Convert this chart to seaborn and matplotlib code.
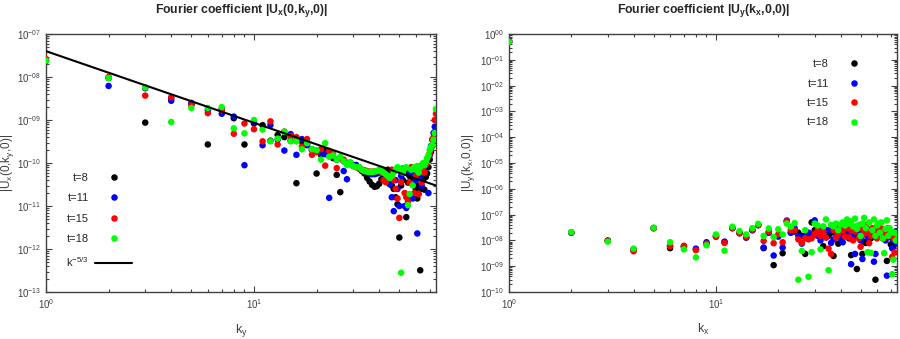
import numpy as np
import pandas as pd
import matplotlib
matplotlib.use("Agg")
import matplotlib.pyplot as plt
import matplotlib.ticker as mticker
import seaborn as sns

# wavenumbers 1..75
k_vals = list(range(1, 76))
times = ["t=8", "t=11", "t=15", "t=18"]
colors = ["#000000", "#0000ff", "#ff0000", "#00ff00"]

# |Ux(0,ky,0)|
ux_t8 = [2.4e-8, 9.5e-9, 8.7e-10, 3.2e-9, 2.3e-9, 2.7e-10, 1.8e-9, 1.1e-9, 2.7e-10, 8.3e-10,
         7.6e-10, 3.3e-10, 4.5e-10, 4.0e-10, 3.3e-10, 3.4e-11, 3.2e-10, 2.8e-10, 2.1e-10, 5.7e-11,
         1.55e-10, 1.9e-10, 1.5e-10, 1.3e-10, 5.3e-11, 2.1e-11, 1.1e-10, 1.0e-10, 9.5e-11, 9e-11,
         8.5e-11, 7.5e-11, 6.5e-11, 5.7e-11, 4.5e-11, 3.7e-11, 3.1e-11, 2.8e-11, 2.9e-11, 3.3e-11,
         4.2e-11, 5.5e-11, 6.5e-11, 7e-11, 6e-11, 3e-11, 2.5e-11, 1.6e-11, 1.1e-11, 1.85e-12,
         3e-11, 4e-11, 6e-11, 5.5e-12, 3.5e-11, 5e-11, 6e-11, 4.5e-11, 3e-11, 2.5e-11,
         1.5e-11, 3e-11, 3.2e-13, 2.5e-11, 4e-11, 2.4e-11, 4.7e-11, 5.7e-11, 8e-11, 1.2e-10,
         1.8e-10, 2.5e-10, 3.5e-10, 4.5e-10, 5.9e-10]
ux_t11 = [2.4e-8, 6.2e-9, 5.5e-9, 2.8e-9, 2.5e-9, 1.7e-9, 1.4e-9, 1.2e-9, 8.9e-11, 9e-10,
          2.6e-10, 7.6e-10, 3.5e-10, 1.95e-10, 4.7e-10, 1.55e-10, 3.6e-10, 2.6e-10, 2e-10, 1.9e-10,
          1.7e-10, 1.6e-10, 1.55e-11, 1.4e-10, 1.2e-10, 1.3e-10, 6.5e-11, 4.2e-11, 1e-10, 9e-11,
          9e-11, 8e-11, 7e-11, 6.5e-11, 6e-11, 5.7e-11, 5.5e-11, 5.5e-11, 5.7e-11, 6e-11,
          6.5e-11, 6e-11, 5e-11, 3.5e-11, 3.2e-11, 1.6e-11, 7.6e-12, 4e-11, 2.5e-11, 1e-11,
          5e-11, 6.5e-11, 1e-11, 9e-12, 7e-11, 1.8e-11, 6e-11, 1.5e-11, 7e-11, 4e-11,
          2.3e-12, 6.5e-11, 5e-11, 3e-11, 7e-11, 8e-11, 9e-11, 1.1e-10, 2e-11, 1.5e-10,
          2.5e-10, 3.5e-10, 5e-10, 7e-10, 1e-9]
ux_t15 = [2.6e-8, 1e-8, 3.7e-9, 3.4e-9, 2.2e-9, 1.45e-9, 1.7e-9, 4.8e-10, 8.3e-10, 6.1e-10,
          3.2e-10, 9.3e-10, 2.7e-10, 5.4e-10, 4.3e-10, 4e-10, 2.4e-10, 3.6e-10, 1.55e-10, 1.8e-10,
          2.1e-10, 8.7e-11, 1.9e-10, 1.6e-10, 7.6e-11, 1.3e-10, 1.2e-10, 1e-10, 9.5e-11, 8.5e-11,
          8e-11, 7.5e-11, 7e-11, 6.8e-11, 6.5e-11, 6.3e-11, 6.3e-11, 6.3e-11, 6.5e-11, 6.8e-11,
          6e-11, 4e-11, 3.6e-11, 4.5e-11, 5e-11, 7e-11, 4e-11, 2.5e-11, 1.5e-11, 5.3e-12,
          3.6e-11, 7.5e-11, 2e-11, 1.6e-11, 1.3e-11, 3.5e-11, 8e-11, 7.5e-11, 2e-11, 5e-11,
          8e-11, 1.9e-11, 6.5e-11, 3.5e-11, 7.5e-11, 6e-11, 9e-11, 1.2e-10, 1.4e-10, 1.7e-10,
          2.2e-10, 3.5e-10, 4e-10, 1e-9, 1.4e-9]
ux_t18 = [2.4e-8, 9.5e-9, 5.7e-9, 9e-10, 1.9e-9, 1.9e-9, 2e-9, 6.4e-10, 4.9e-10, 1e-9,
          6e-10, 3.2e-10, 3.7e-10, 5.3e-10, 3.2e-10, 3.2e-10, 2.1e-10, 2.9e-10, 2.1e-10, 2e-10,
          1.2e-10, 2.9e-10, 1.4e-10, 1.5e-10, 1.2e-10, 1.4e-10, 1.1e-10, 9e-11, 1.05e-10, 8.5e-11,
          8e-11, 8e-11, 7e-11, 6.5e-11, 6.3e-11, 6.2e-11, 6.2e-11, 6.3e-11, 6.5e-11, 6.8e-11,
          6.5e-11, 6e-11, 5.5e-11, 5e-11, 4.5e-11, 5e-11, 6e-11, 7e-11, 8e-11, 7.5e-11,
          2.8e-13, 6e-11, 7.5e-11, 8e-11, 1.05e-11, 1.9e-11, 7e-11, 3e-11, 8e-11, 7e-11,
          8.5e-11, 6e-11, 8e-11, 9e-11, 1e-10, 9e-11, 1.05e-10, 1.3e-10, 1.5e-10, 2e-10,
          2.4e-10, 2.6e-10, 3.5e-10, 5e-10, 1.8e-9]

# |Uy(kx,0,0)|
uy_t8 = [0.5, 2e-8, 9.5e-9, 4.2e-9, 3e-8, 5e-9, 5.5e-9, 4.5e-9, 7.5e-9, 1.4e-8,
         8.5e-9, 3e-8, 1.9e-8, 1.3e-8, 2.5e-8, 3.9e-8, 5e-9, 2e-8, 1.1e-9, 1.5e-8,
         3.2e-9, 5.5e-8, 2e-8, 2.2e-8, 2e-8, 1.5e-8, 3e-9, 1.8e-8, 5e-8, 2.5e-8,
         2.2e-8, 2e-8, 6e-9, 2.5e-8, 1.5e-8, 2e-8, 2.5e-9, 1.8e-8, 7.5e-9, 2.2e-8,
         1.5e-8, 2e-8, 2.5e-8, 1.2e-8, 2.7e-9, 2e-8, 1.5e-8, 7.8e-10, 2.2e-8, 1.3e-8,
         3e-9, 8.5e-9, 8e-9, 2.5e-8, 1.8e-8, 1.2e-8, 2e-8, 2.5e-8, 3e-10, 1.5e-8,
         2.8e-8, 1.5e-8, 2e-8, 1.2e-8, 2e-8, 1.5e-8, 1.6e-9, 2.2e-8, 1.8e-8, 7e-9,
         1.2e-8, 6e-9, 1.5e-8, 9e-9, 1.2e-8]
uy_t11 = [0.5, 2e-8, 1e-8, 4.5e-9, 3e-8, 6e-9, 6e-9, 4.8e-9, 8.5e-9, 1.5e-8,
          9e-9, 3e-8, 2e-8, 1.3e-8, 2.5e-8, 4e-8, 5.3e-9, 2e-8, 2.6e-9, 1.4e-8,
          5.3e-9, 5.9e-8, 2e-8, 3e-8, 1.5e-8, 7.5e-9, 1.5e-8, 2e-8, 1.7e-8, 6e-8,
          1.5e-8, 1e-8, 3e-8, 1.3e-8, 2.5e-8, 8e-9, 1.1e-8, 2e-8, 3.5e-8, 1.2e-8,
          8.5e-9, 2.5e-8, 1.6e-8, 2.8e-8, 1.2e-9, 1.8e-8, 3e-9, 1.5e-8, 2.5e-8, 1e-8,
          1.9e-9, 2.2e-8, 3.5e-8, 1.3e-8, 2.5e-8, 2e-8, 1.5e-8, 1.5e-9, 3e-9, 3.2e-8,
          2e-8, 1.5e-8, 2.5e-8, 1.5e-8, 1.8e-8, 1e-8, 4.3e-10, 2.5e-8, 1.4e-8, 2e-8,
          5e-9, 1e-8, 1.8e-8, 2.2e-8, 8e-9]
uy_t15 = [0.5, 2e-8, 9.5e-9, 3.8e-9, 3e-8, 6e-9, 6.2e-9, 4.2e-9, 7.5e-9, 1.4e-8,
          8e-9, 3e-8, 1.9e-8, 1.4e-8, 2.6e-8, 3.9e-8, 9.5e-9, 2.2e-8, 7.8e-9, 1.7e-8,
          8.5e-9, 5.5e-8, 2.5e-8, 2.5e-8, 1.1e-8, 8e-9, 1.2e-8, 1.1e-8, 1.2e-8, 1.8e-8,
          2.5e-8, 1.5e-8, 2.2e-8, 1.3e-8, 4.8e-9, 3e-9, 2.5e-8, 1.3e-8, 1.8e-8, 2.8e-8,
          2.3e-8, 1.4e-8, 3e-8, 1.3e-8, 2.5e-8, 1e-8, 2.2e-8, 3.5e-8, 1.2e-8, 5.7e-9,
          2.8e-8, 1.8e-8, 4e-8, 2.2e-8, 7.8e-9, 1.5e-8, 3e-8, 1.8e-8, 2.5e-8, 1.2e-8,
          3.5e-8, 2e-8, 1.5e-8, 2.8e-8, 1.2e-8, 2.2e-8, 1.8e-8, 3e-8, 1.5e-8, 2e-8,
          2.3e-9, 1.2e-8, 3.4e-9, 1.8e-8, 1e-8]
uy_t18 = [0.5, 2.1e-8, 9e-9, 4.8e-9, 3.1e-8, 8.5e-9, 4.5e-9, 2.2e-9, 6.5e-9, 1.7e-8,
          4e-9, 3.4e-8, 2.3e-8, 1.7e-8, 3e-8, 4.4e-8, 1.5e-8, 2.9e-8, 1.35e-8, 2.7e-8,
          1.7e-8, 4.5e-8, 3.4e-8, 4.7e-8, 3e-10, 3.9e-9, 2.5e-8, 3.9e-10, 3.5e-9, 4.5e-8,
          3.8e-8, 4.5e-9, 3.5e-8, 6.5e-8, 7e-10, 4e-8, 3.5e-8, 4.5e-8, 2.5e-8, 4.2e-8,
          5e-8, 3.8e-8, 6.5e-8, 4.5e-8, 5.5e-8, 3.5e-8, 7e-8, 2.8e-8, 4e-8, 1.5e-8,
          4.5e-8, 7.5e-8, 3e-8, 3.5e-9, 5e-8, 3.3e-9, 2.5e-8, 6.5e-8, 1.5e-8, 3.8e-8,
          4.5e-8, 2e-8, 5e-8, 1.2e-8, 3.2e-9, 2.8e-8, 6e-8, 1.5e-8, 3e-8, 2e-8,
          4.9e-10, 1.8e-9, 2e-8, 1e-8, 1.8e-8]

# reference slope k^(-5/3)
ref_amp = 4e-8
ref_slope = -5.0 / 3.0
ref_k = [1, 75]


def long_df(series):
    rows = []
    for label, vals in zip(times, series):
        for k, v in zip(k_vals, vals):
            rows.append({"k": k, "val": v, "t": label})
    return pd.DataFrame(rows)


def log_fmt(pad):
    def f(v, pos):
        e = int(round(np.log10(v)))
        if pad:
            s = ("-" if e < 0 else "") + "%02d" % abs(e)
        else:
            s = str(e)
        return r"$10^{%s}$" % s
    return mticker.FuncFormatter(f)


sns.set_style("ticks")
plt.rcParams["font.family"] = ["Liberation Sans", "DejaVu Sans"]
plt.rcParams["mathtext.fontset"] = "custom"
plt.rcParams["mathtext.rm"] = "Liberation Sans"
plt.rcParams["mathtext.it"] = "Liberation Sans"
plt.rcParams["mathtext.bf"] = "Liberation Sans:bold"

fig = plt.figure(figsize=(9, 3.39), dpi=100)
ax1 = fig.add_axes([0.0511, 0.1386, 0.4333, 0.761])
ax2 = fig.add_axes([0.5656, 0.1386, 0.4311, 0.761])

grey = "#404040"

df1 = long_df([ux_t8, ux_t11, ux_t15, ux_t18])
df2 = long_df([uy_t8, uy_t11, uy_t15, uy_t18])

sns.scatterplot(data=df1, x="k", y="val", hue="t", palette=colors, s=22,
                linewidth=0, ax=ax1, zorder=3)
ref_df = pd.DataFrame({"k": ref_k, "val": [ref_amp * kk ** ref_slope for kk in ref_k]})
sns.lineplot(data=ref_df, x="k", y="val", color="black", lw=1.5, ax=ax1,
             label=r"k$^{-5/3}$", zorder=4)
sns.scatterplot(data=df2, x="k", y="val", hue="t", palette=colors, s=22,
                linewidth=0, ax=ax2, zorder=3)

for ax, ylim in [(ax1, (1e-13, 1e-7)), (ax2, (1e-10, 1e0))]:
    ax.set_xscale("log")
    ax.set_yscale("log")
    ax.set_xlim(1, 75)
    ax.set_ylim(*ylim)
    ax.yaxis.set_major_locator(mticker.LogLocator(base=10, numticks=20))
    ax.yaxis.set_minor_locator(mticker.LogLocator(base=10, subs=np.arange(2, 10), numticks=20))
    ax.yaxis.set_minor_formatter(mticker.NullFormatter())
    ax.xaxis.set_minor_formatter(mticker.NullFormatter())
    ax.yaxis.set_major_formatter(log_fmt(True))
    ax.xaxis.set_major_formatter(log_fmt(False))
    ax.tick_params(which="both", direction="in", top=True, right=True,
                   labelsize=7, labelcolor=grey, color=grey, width=0.8)
    ax.tick_params(which="major", length=4)
    ax.tick_params(which="minor", length=2)
    for sp in ax.spines.values():
        sp.set_visible(True)
        sp.set_color(grey)
        sp.set_linewidth(1.0)

ax1.set_xlabel(r"k$_y$", fontsize=9, color=grey, labelpad=8)
ax1.set_ylabel(r"|U$_x$(0,k$_y$,0)|", fontsize=8.5, color=grey, labelpad=0.5)
ax2.set_xlabel(r"k$_x$", fontsize=9, color=grey, labelpad=8)
ax2.set_ylabel(r"|U$_y$(k$_x$,0,0)|", fontsize=8.5, color=grey, labelpad=2)
ax1.set_title(r"Fourier coefficient |U$_\mathbf{x}$(0,k$_\mathbf{y}$,0)|",
              fontsize=8.8, fontweight="bold", pad=15)
ax2.set_title(r"Fourier coefficient |U$_\mathbf{y}$(k$_\mathbf{x}$,0,0)|",
              fontsize=8.8, fontweight="bold", pad=15)

h1, l1 = ax1.get_legend_handles_labels()
ax1.legend(h1, l1, loc="upper left", bbox_to_anchor=(0.04, 0.48), frameon=False,
           markerfirst=False, fontsize=8, handlelength=3.3, handletextpad=0.6,
           labelspacing=0.95, borderaxespad=0)
h2, l2 = ax2.get_legend_handles_labels()
ax2.legend(h2, l2, loc="upper right", bbox_to_anchor=(0.948, 0.92), frameon=False,
           markerfirst=False, fontsize=8, handlelength=3.3, handletextpad=0.6,
           labelspacing=0.85, borderaxespad=0)

fig.savefig("out.png", dpi=100, facecolor="white")
